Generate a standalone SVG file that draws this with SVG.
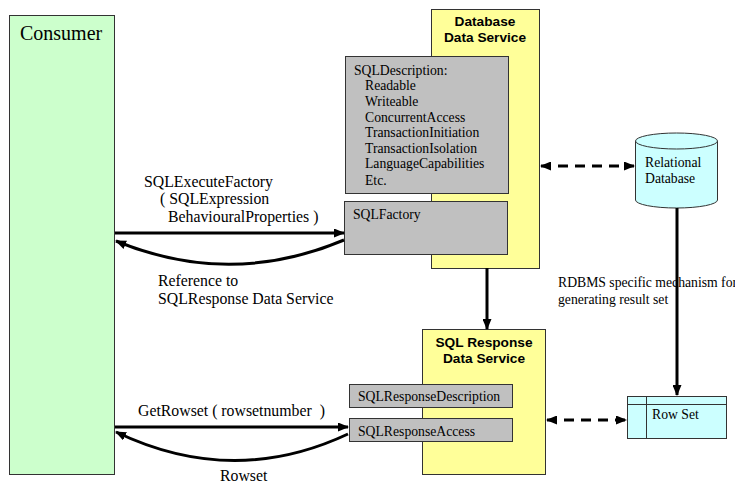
<svg xmlns="http://www.w3.org/2000/svg" width="735" height="485" viewBox="0 0 735 485">
<style>
.serif{font-family:"Liberation Serif","Times New Roman",serif;fill:#000}
.bold{font-family:"Liberation Sans",Arial,sans-serif;font-weight:bold;font-size:13.7px;fill:#000;text-anchor:middle}
.sm{font-size:13.7px}
.md{font-size:15.8px}
.conn{fill:none;stroke:#000;stroke-width:3}
.dash{fill:none;stroke:#000;stroke-width:3;stroke-dasharray:10 7}
.box{stroke:#333;stroke-width:1}
</style>
<defs>
<marker id="ah" markerUnits="userSpaceOnUse" markerWidth="11" markerHeight="9" refX="10" refY="4.5" orient="auto-start-reverse">
<path d="M0,0 L11,4.5 L0,9 z" fill="#000"/>
</marker>
</defs>
<rect width="735" height="485" fill="#fff"/>

<g id="consumer">
<rect class="box" x="9.5" y="15.5" width="105" height="459" fill="#ccffcc"/>
<text class="serif" x="20" y="40" font-size="20">Consumer</text>
</g>

<g id="database-data-service">
<rect class="box" x="431.5" y="9.5" width="108" height="259" fill="#ffff99"/>
<text class="bold" x="485" y="26">Database</text>
<text class="bold" x="485" y="42">Data Service</text>
</g>

<g id="sqldescription">
<rect class="box" x="345.5" y="56.5" width="163" height="137" fill="#c0c0c0"/>
<text class="serif sm" x="354" y="75">SQLDescription:</text>
<text class="serif sm" x="365" y="90">Readable</text>
<text class="serif sm" x="365" y="106">Writeable</text>
<text class="serif sm" x="365" y="122">ConcurrentAccess</text>
<text class="serif sm" x="365" y="137">TransactionInitiation</text>
<text class="serif sm" x="365" y="153">TransactionIsolation</text>
<text class="serif sm" x="365" y="168">LanguageCapabilities</text>
<text class="serif sm" x="365" y="185">Etc.</text>
</g>

<g id="sqlfactory">
<rect class="box" x="344.5" y="201.5" width="163" height="53" fill="#c0c0c0"/>
<text class="serif sm" x="353" y="219">SQLFactory</text>
</g>

<g id="relational-database">
<path class="box" d="M635.5,141 L635.5,200 A41,8 0 0 0 717.5,200 L717.5,141" fill="#ccffff"/>
<ellipse class="box" cx="676.5" cy="141" rx="41" ry="8" fill="#ccffff"/>
<text class="serif sm" x="645" y="167">Relational</text>
<text class="serif sm" x="645" y="183">Database</text>
</g>

<g id="sql-response-data-service">
<rect class="box" x="422.5" y="329.5" width="123" height="145" fill="#ffff99"/>
<text class="bold" x="484" y="347">SQL Response</text>
<text class="bold" x="484" y="363">Data Service</text>
</g>

<g id="sqlresponsedescription">
<rect class="box" x="349.5" y="384.5" width="163" height="23" fill="#c0c0c0"/>
<text class="serif sm" x="358" y="401">SQLResponseDescription</text>
</g>

<g id="sqlresponseaccess">
<rect class="box" x="349.5" y="418.5" width="163" height="23" fill="#c0c0c0"/>
<text class="serif sm" x="358" y="436">SQLResponseAccess</text>
</g>

<g id="row-set">
<rect class="box" x="627.5" y="396.5" width="99" height="42" fill="#ccffff"/>
<line class="box" x1="627.5" y1="404.5" x2="726.5" y2="404.5"/>
<line class="box" x1="646.5" y1="396.5" x2="646.5" y2="438.5"/>
<text class="serif sm" x="652" y="419">Row Set</text>
</g>

<g id="labels">
<text class="serif md" x="144" y="187">SQLExecuteFactory</text>
<text class="serif md" x="160" y="204">( SQLExpression</text>
<text class="serif md" x="168" y="222">BehaviouralProperties )</text>
<text class="serif md" x="158" y="286">Reference to</text>
<text class="serif md" x="158" y="304">SQLResponse Data Service</text>
<text class="serif md" x="138" y="416" xml:space="preserve">GetRowset ( rowsetnumber  )</text>
<text class="serif md" x="220" y="481">Rowset</text>
<text class="serif sm" x="558" y="287">RDBMS specific mechanism for</text>
<text class="serif sm" x="558" y="304">generating result set</text>
</g>

<g id="connectors">
<path class="conn" d="M115,233 L344,233" marker-end="url(#ah)"/>
<path class="conn" d="M344,240 Q230,288 116,241" marker-end="url(#ah)"/>
<path class="conn" d="M115,427 L348,427" marker-end="url(#ah)"/>
<path class="conn" d="M348,434 Q233,488 116,432" marker-end="url(#ah)"/>
<path class="conn" d="M487,268 L487,329" marker-end="url(#ah)"/>
<path class="conn" d="M677,208 L677,395" marker-end="url(#ah)"/>
<path class="dash" d="M541,166 L634,166" marker-start="url(#ah)" marker-end="url(#ah)"/>
<path class="dash" d="M547,420 L626,420" marker-start="url(#ah)" marker-end="url(#ah)"/>
</g>
</svg>
